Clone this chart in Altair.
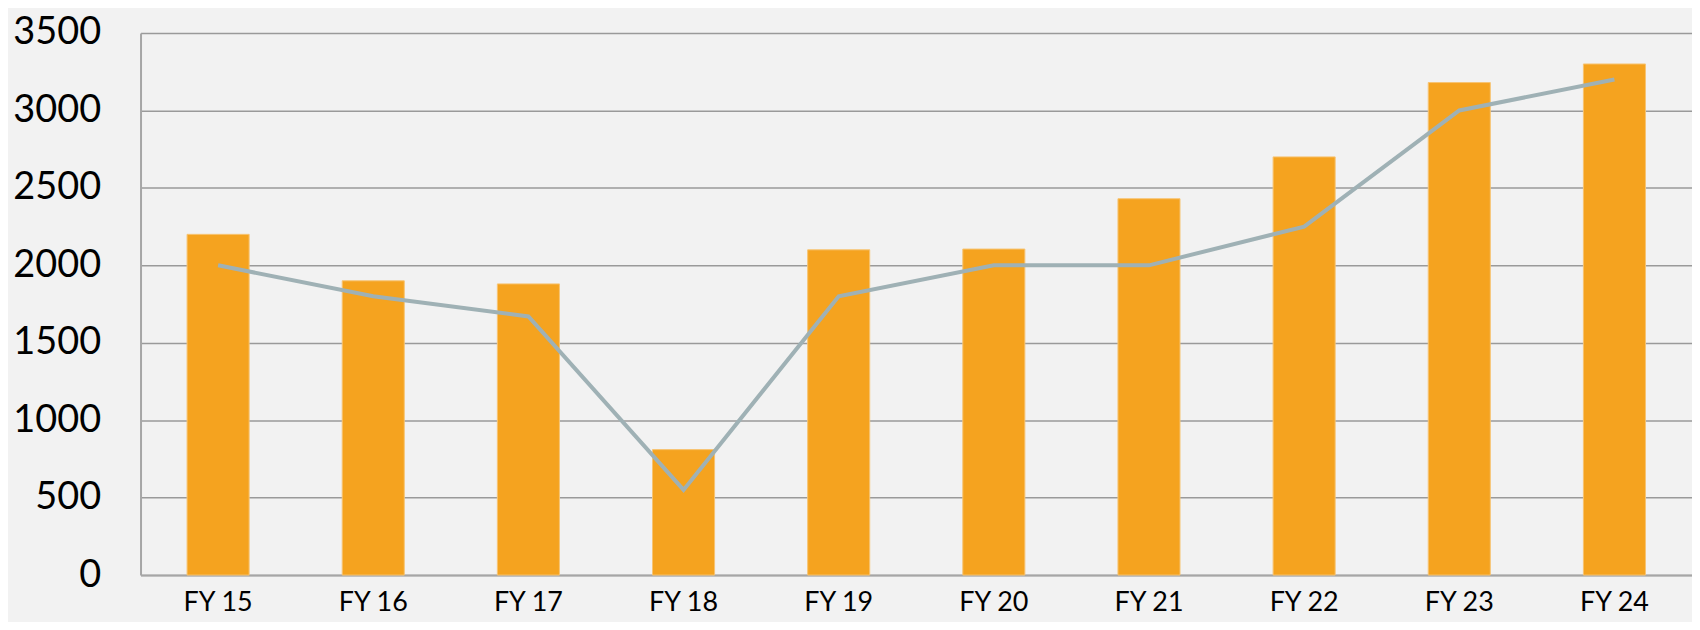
import altair as alt
import pandas as pd

categories = ["FY 15", "FY 16", "FY 17", "FY 18", "FY 19", "FY 20", "FY 21", "FY 22", "FY 23", "FY 24"]
bar_values = [2200, 1900, 1880, 810, 2100, 2105, 2430, 2700, 3180, 3300]
line_values = [2000, 1800, 1670, 550, 1800, 2000, 2000, 2250, 3000, 3200]
y_ticks = [0, 500, 1000, 1500, 2000, 2500, 3000, 3500]

df = pd.DataFrame({"cat": categories, "bar": bar_values, "line": line_values})

FONT = "Lato"

x_enc = alt.X(
    "cat:N",
    sort=categories,
    title=None,
    scale=alt.Scale(paddingInner=0.6, paddingOuter=0.3),
    axis=alt.Axis(
        labelAngle=0,
        labelFont=FONT,
        labelFontSize=27,
        labelColor="#000000",
        labelPadding=15,
        ticks=False,
        domainColor="#a6a6a6",
        domainWidth=2,
        grid=False,
    ),
)

y_scale = alt.Scale(domain=[0, 3500], nice=False)

bars = alt.Chart(df).mark_bar(color="#F5A31F", stroke="#F7C472", strokeWidth=1).encode(
    x=x_enc,
    y=alt.Y(
        "bar:Q",
        title=None,
        scale=y_scale,
        axis=alt.Axis(
            values=y_ticks,
            format="d",
            labelFont=FONT,
            labelFontSize=38,
            labelColor="#000000",
            labelPadding=40,
            labelFlush=False,
            ticks=False,
            domainColor="#a6a6a6",
            domainWidth=2,
            grid=True,
            gridColor="#9a9a9a",
            gridWidth=1.5,
        ),
    ),
)

line = alt.Chart(df).mark_line(color="#9FB1B5", strokeWidth=4).encode(
    x=alt.X("cat:N", sort=categories),
    y=alt.Y("line:Q", scale=y_scale),
)

chart = (
    alt.layer(bars, line)
    .properties(
        width=1557,
        height=544,
        background="#F2F2F2",
        padding={"left": 133, "top": 24, "right": 0, "bottom": 46},
        autosize=alt.AutoSizeParams(type="none"),
    )
    .configure_view(stroke=None)
)

chart.save("out.html", embed_options={"renderer": "svg", "actions": False})
